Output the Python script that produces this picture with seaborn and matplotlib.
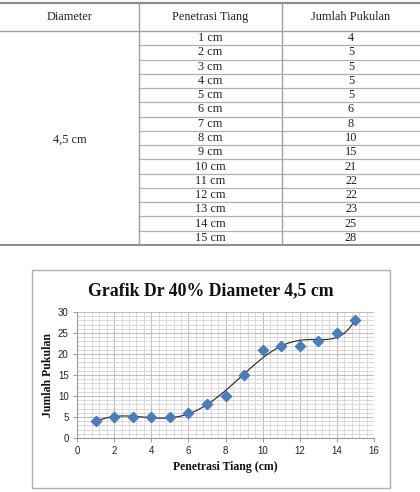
import numpy as np
import pandas as pd
import matplotlib
matplotlib.use("Agg")
import matplotlib.pyplot as plt
from matplotlib.lines import Line2D
import seaborn as sns

# ---- data ----
diameter = "4,5 cm"
penetrasi = [1, 2, 3, 4, 5, 6, 7, 8, 9, 10, 11, 12, 13, 14, 15]
pukulan = [4, 5, 5, 5, 5, 6, 8, 10, 15, 21, 22, 22, 23, 25, 28]
headers = ["Diameter", "Penetrasi Tiang", "Jumlah Pukulan"]
title = "Grafik Dr 40% Diameter 4,5 cm"
xlabel = "Penetrasi Tiang (cm)"
ylabel = "Jumlah Pukulan"

W, H = 420, 492
fig = plt.figure(figsize=(W / 100, H / 100), dpi=100)
fig.patch.set_facecolor("white")

def fx(x):
    return x / W

def fy(y):
    return 1 - y / H

def hline(x0, x1, y, color="#a8a8a8", lw=1.0):
    fig.add_artist(Line2D([fx(x0), fx(x1)], [fy(y), fy(y)], color=color, lw=lw))

def vline(x, y0, y1, color="#a8a8a8", lw=1.0):
    fig.add_artist(Line2D([fx(x), fx(x)], [fy(y0), fy(y1)], color=color, lw=lw))

serif = "Liberation Serif"
tfs = 8.8

# ---- table ----
col_x = [0, 139, 282, 420]
top_y = 3
head_bot = 31
row_h = (245 - head_bot) / len(penetrasi)
bot_y = head_bot + row_h * len(penetrasi)

hline(0, W, top_y, color="#8c8c8c", lw=1.6)
hline(0, W, head_bot, color="#a0a0a0", lw=1.0)
hline(0, W, bot_y, color="#8c8c8c", lw=1.4)
for i in range(1, len(penetrasi)):
    hline(col_x[1], W, head_bot + i * row_h, color="#b0b0b0", lw=0.9)
vline(col_x[1], top_y, bot_y, color="#a0a0a0", lw=1.0)
vline(col_x[2], top_y, bot_y, color="#a0a0a0", lw=1.0)

for j, h in enumerate(headers):
    fig.text(fx((col_x[j] + col_x[j + 1]) / 2), fy((top_y + head_bot) / 2), h,
             ha="center", va="center", family=serif, fontsize=tfs, color="#222222")
for i, (p, n) in enumerate(zip(penetrasi, pukulan)):
    yc = head_bot + (i + 0.5) * row_h
    fig.text(fx((col_x[1] + col_x[2]) / 2), fy(yc), f"{p} cm",
             ha="center", va="center", family=serif, fontsize=tfs, color="#222222")
    fig.text(fx((col_x[2] + col_x[3]) / 2), fy(yc), f"{n}",
             ha="center", va="center", family=serif, fontsize=tfs, color="#222222")
fig.text(fx((col_x[0] + col_x[1]) / 2), fy((head_bot + bot_y) / 2 + 2), diameter,
         ha="center", va="center", family=serif, fontsize=tfs, color="#222222")

# ---- chart box ----
bx0, by0, bx1, by1 = 32, 270, 390, 488
box = matplotlib.patches.Rectangle((fx(bx0), fy(by1)), fx(bx1) - fx(bx0), fy(by0) - fy(by1),
                                   transform=fig.transFigure, fill=False,
                                   edgecolor="#b0b0b0", lw=1.0)
fig.add_artist(box)

px0, py0, px1, py1 = 77, 312, 374, 438
ax = fig.add_axes([fx(px0), fy(py1), fx(px1) - fx(px0), fy(py0) - fy(py1)])
ax.set_facecolor("white")

df = pd.DataFrame({"x": penetrasi, "y": pukulan})
coef = np.polyfit(df["x"], df["y"], 6)
xs = np.linspace(min(penetrasi), max(penetrasi), 300)
trend = pd.DataFrame({"x": xs, "y": np.polyval(coef, xs)})

ax.set_xlim(0, 16)
ax.set_ylim(0, 30)
ax.set_xticks(np.arange(0, 17, 2))
ax.set_yticks(np.arange(0, 31, 5))
ax.set_xticks(np.arange(0, 16.01, 0.4), minor=True)
ax.set_yticks(np.arange(0, 30.01, 1), minor=True)
ax.grid(which="minor", color="#d4d4d4", lw=0.6)
ax.grid(which="major", color="#bcbcbc", lw=0.7)
ax.set_axisbelow(True)

sns.lineplot(data=trend, x="x", y="y", ax=ax, color="#222222", lw=0.8, zorder=3)
sns.scatterplot(data=df, x="x", y="y", ax=ax, marker="D", s=32, color="#4a7ebb",
                edgecolor="#3b6ba5", linewidth=0.4, zorder=4)

for s in ["top", "right"]:
    ax.spines[s].set_visible(False)
for s in ["left", "bottom"]:
    ax.spines[s].set_color("#9a9a9a")
    ax.spines[s].set_linewidth(0.8)
ax.tick_params(which="major", length=3, width=0.7, color="#9a9a9a",
               labelsize=7, labelcolor="#222222", pad=3)
ax.tick_params(which="minor", length=0)
for lab in ax.get_xticklabels() + ax.get_yticklabels():
    lab.set_family("Liberation Sans")

ax.set_xlabel("")
ax.set_ylabel("")
fig.text(fx((px0 + px1) / 2), fy(467), xlabel, ha="center", va="center",
         family=serif, fontweight="bold", fontsize=8.5, color="#111111")
fig.text(fx(48), fy((py0 + py1) / 2), ylabel, ha="center", va="center", rotation=90,
         family=serif, fontweight="bold", fontsize=8.5, color="#111111")
fig.text(fx(211), fy(291), title, ha="center", va="center",
         family=serif, fontweight="bold", fontsize=12.8, color="#111111")

fig.savefig("out.png", dpi=100, facecolor="white")
